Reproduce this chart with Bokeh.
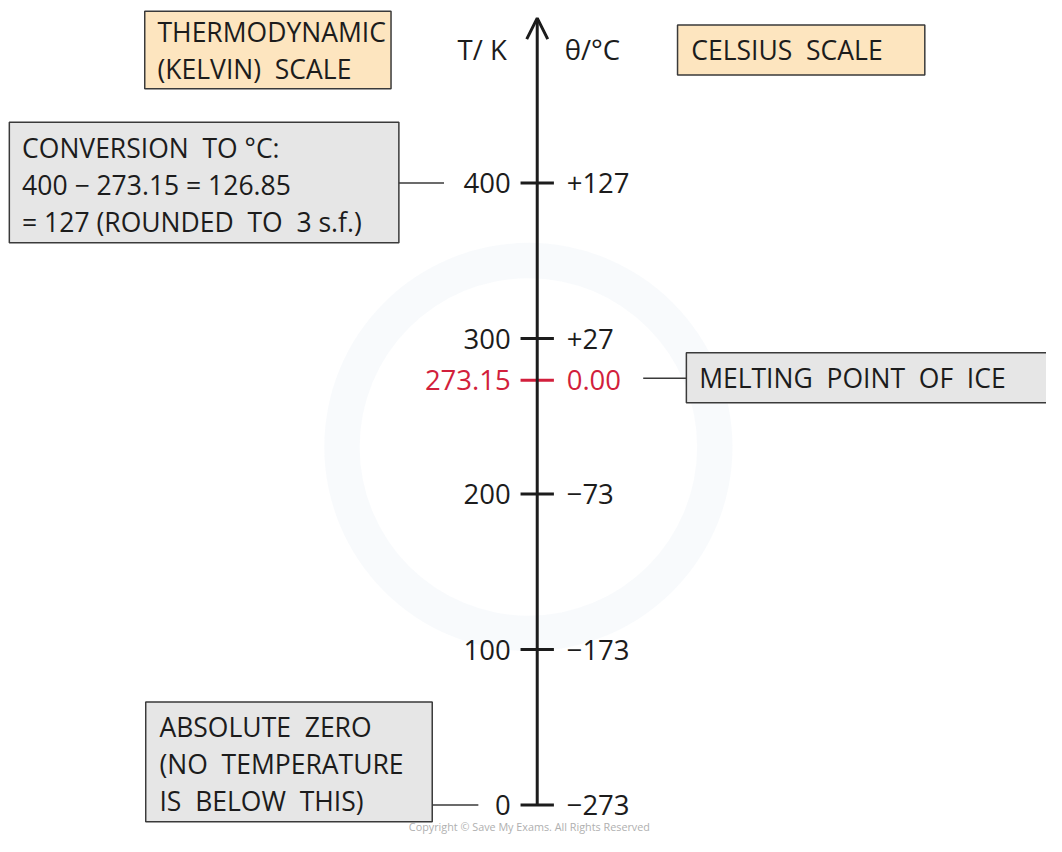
from bokeh.plotting import figure
from bokeh.models import Range1d, Arrow, OpenHead
from bokeh.core.properties import value
from bokeh.embed import file_html
from bokeh.resources import INLINE

# ---- data ----
kelvin = [0, 100, 200, 273.15, 300, 400]
kelvin_labels = ["0", "100", "200", "273.15", "300", "400"]
celsius_labels = ["\u2212273", "\u2212173", "\u221273", "0.00", "+27", "+127"]
highlight = [False, False, False, True, False, False]
axis_top_k = 506

kelvin_title = "T/ K"
celsius_title = "\u03b8/\u00b0C"
SP = "\u00a0 "
box_kelvin = ["THERMODYNAMIC", "(KELVIN)" + SP + "SCALE"]
box_celsius = ["CELSIUS" + SP + "SCALE"]
box_conversion = ["CONVERSION" + SP + "TO" + " \u00b0C:",
                  "400 \u2212 273.15 = 126.85",
                  "= 127 (ROUNDED" + SP + "TO" + SP + "3 s.f.)"]
box_ice = ["MELTING" + SP + "POINT" + SP + "OF" + SP + "ICE"]
box_zero = ["ABSOLUTE" + SP + "ZERO", "(NO" + SP + "TEMPERATURE", "IS" + SP + "BELOW" + SP + "THIS)"]
copyright_text = "Copyright \u00a9 Save My Exams. All Rights Reserved"

# ---- styling ----
W, H = 1046, 836
REF_W, REF_H = 1062, 852
S = H / REF_H            # uniform scale from reference layout to figure
FONT = value("Open Sans")
INK = "#1c1c1c"
RED = "#d21f3c"
PEACH = "#fde5bf"
GREY = "#e6e6e6"
EDGE = "#3a3a3a"
AXIS_X = 547
PX_PER_K = 1.585
ZERO_PX = 820  # layout y of 0 K

def fs(px):
    return f"{px * S:.1f}px"

def k_at(py):
    return (ZERO_PX - py) / PX_PER_K

p = figure(width=W, height=H, output_backend="svg", toolbar_location=None,
           x_range=Range1d(0, W / S), y_range=Range1d(k_at(REF_H), k_at(0)),
           min_border=0, outline_line_color=None, background_fill_color="white")
p.axis.visible = False
p.grid.visible = False
p.extra_y_ranges = {"px": Range1d(REF_H, 0)}

# faint watermark ring
p.annulus(x=538, y=455, inner_radius=172, outer_radius=208, fill_color="#eef3f8",
          fill_alpha=0.4, line_color=None, y_range_name="px")

# axis shaft + arrow head
p.add_layout(Arrow(x_start=AXIS_X, y_start=0, x_end=AXIS_X, y_end=axis_top_k,
                   line_width=3, line_color=INK,
                   end=OpenHead(size=21, line_width=3, line_color=INK)))

tick_colors = [RED if h else INK for h in highlight]
p.segment(x0=[AXIS_X - 17] * len(kelvin), x1=[AXIS_X + 17] * len(kelvin),
          y0=kelvin, y1=kelvin, line_width=3, line_color=tick_colors)
p.text(x=[520] * len(kelvin), y=kelvin, text=kelvin_labels, text_align="right",
       text_baseline="middle", text_font=FONT, text_font_size=fs(28), text_color=tick_colors)
p.text(x=[577] * len(kelvin), y=kelvin, text=celsius_labels, text_align="left",
       text_baseline="middle", text_font=FONT, text_font_size=fs(28), text_color=tick_colors)

p.text(x=[516], y=[50], text=[kelvin_title], text_align="right", text_baseline="middle",
       text_font=FONT, text_font_size=fs(28), text_color=INK, y_range_name="px")
p.text(x=[575], y=[50], text=[celsius_title], text_align="left", text_baseline="middle",
       text_font=FONT, text_font_size=fs(28), text_color=INK, y_range_name="px")

# boxes: (left, right, top, bottom, fill, lines, text x, first line y, line step)
boxes = [
    (147, 398, 11, 90, PEACH, box_kelvin, 160, 32, 38),
    (690, 942, 25, 76, PEACH, box_celsius, 704, 50, 38),
    (9, 406, 124, 247, GREY, box_conversion, 22, 150, 38),
    (699, 1080, 359, 410, GREY, box_ice, 712, 385, 38),
    (148, 440, 715, 837, GREY, box_zero, 162, 740, 38),
]
for l, r, t, b, fill, lines, tx, ty, step in boxes:
    p.quad(left=l, right=r, top=t, bottom=b, fill_color=fill, line_color=EDGE,
           line_width=1.5, y_range_name="px")
    p.text(x=[tx] * len(lines), y=[ty + i * step for i in range(len(lines))], text=lines,
           text_align="left", text_baseline="middle", text_font=FONT,
           text_font_size=fs(27), text_color=INK, y_range_name="px")

# connectors
p.segment(x0=[406, 655, 440], x1=[452, 699, 487], y0=[186, 385, 820], y1=[186, 385, 820],
          line_width=1.5, line_color=EDGE, y_range_name="px")

p.text(x=[539], y=[842], text=[copyright_text], text_align="center", text_baseline="middle",
       text_font=FONT, text_font_size=fs(11), text_color="#b0b0b0", y_range_name="px")

open("out.html", "w").write(file_html(p, INLINE))
